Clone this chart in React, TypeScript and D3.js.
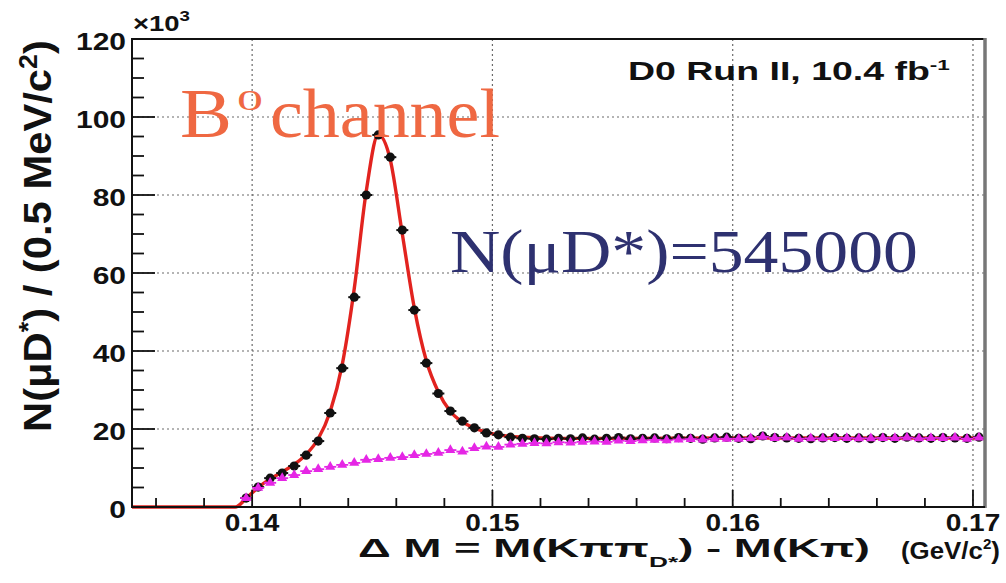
import React, { useEffect, useRef } from "react";
import * as d3 from "d3";

const WIDTH = 1006;
const HEIGHT = 583;

// Histogram binning of ΔM (GeV/c²)
const binLow = 0.1395;
const binWidth = 0.0005;

// Right-sign μD* candidates per 0.5 MeV/c² bin (×10³)
const dataCounts = [
  2.3, 5.1, 7.4, 8.7, 10.5, 13.3, 16.9, 24.1, 35.6, 53.8, 80.0, 95.4, 89.7, 71.0,
  50.5, 36.9, 29.1, 24.6, 22.0, 20.3, 19.0, 18.5, 17.9, 17.6,
  17.5, 17.4, 17.6, 17.5, 17.7, 17.4, 17.6, 17.8, 17.5, 17.6, 17.7, 17.5, 17.8,
  17.6, 17.4, 17.7, 17.9, 17.6, 17.5, 18.2, 17.8, 17.7, 17.6, 17.5, 17.7, 17.8,
  17.6, 17.7, 17.5, 17.8, 17.6, 17.9, 17.7, 17.6, 17.8, 17.7, 17.6, 17.9,
];

// Wrong-sign (background) candidates per bin (×10³)
const bkgCounts = [
  2.3, 4.9, 6.2, 7.4, 8.2, 9.2, 9.7, 10.3, 10.8, 11.3, 12.1, 12.3, 12.6, 12.8,
  13.3, 13.6, 13.9, 14.6, 14.2, 15.1, 15.5, 15.4, 16.0, 16.2, 16.4, 16.3, 16.6, 16.5,
  16.7, 16.8, 16.7, 17.0, 16.9, 17.1, 17.2, 17.1, 17.3, 17.4, 17.3, 17.5, 17.5,
  17.5, 17.6, 18.0, 17.7, 17.8, 17.5, 17.6, 17.6, 17.7, 17.7, 17.6, 17.6, 17.7,
  17.7, 17.8, 17.6, 17.7, 17.7, 17.8, 17.5, 17.8,
];

// Fitted signal + background curve
const fitMass = [
  0.135, 0.1393, 0.13975, 0.14025, 0.14075, 0.14125, 0.14175, 0.14225, 0.14275,
  0.14325, 0.14375, 0.14425, 0.14475, 0.14525, 0.14575, 0.14625, 0.14675, 0.14725,
  0.14775, 0.14825, 0.14875, 0.14925, 0.14975, 0.15025, 0.15125, 0.15275, 0.155,
  0.16, 0.165, 0.1705,
];
const fitCounts = [
  0, 0, 2.2, 5.0, 7.2, 9.0, 10.9, 13.5, 17.5, 24.5, 36.5, 56, 81, 95.5, 89, 70, 51,
  37.5, 29.5, 24.5, 21.8, 20.2, 19.2, 18.5, 17.9, 17.6, 17.6, 17.7, 17.7, 17.7,
];

const xDomain = [0.135, 0.1705];
const yDomain = [0, 120];
const xMajorTicks = [0.14, 0.15, 0.16, 0.17];
const xTickLabels = ["0.14", "0.15", "0.16", "0.17"];
const yMajorTicks = [0, 20, 40, 60, 80, 100, 120];
const yTickLabels = ["0", "20", "40", "60", "80", "100", "120"];

const ROOT_FONT = "'Liberation Sans', Arial, Helvetica, sans-serif";
const HAND_FONT = "'Liberation Serif', 'DejaVu Serif', serif";

const PLOT = { left: 132, right: 985, top: 39, bottom: 507 };

type Sel = d3.Selection<SVGTextElement, unknown, null, undefined>;

// Place a text element so that its advance width equals `width`, anchored at x.
function fitText(
  parent: d3.Selection<SVGGElement, unknown, null, undefined>,
  x: number,
  y: number,
  width: number,
  anchor: "start" | "middle" | "end",
  style: { size: number; weight?: string; family: string; fill: string },
  build: (t: Sel) => void,
  rotate = 0
) {
  const t = parent
    .append("text")
    .attr("font-family", style.family)
    .attr("font-size", style.size)
    .attr("font-weight", style.weight || "normal")
    .attr("fill", style.fill)
    .attr("text-anchor", "start") as unknown as Sel;
  build(t);
  const w = (t.node() as SVGTextElement).getBBox().width || 1;
  const sx = width / w;
  const off = anchor === "start" ? 0 : anchor === "middle" ? -width / 2 : -width;
  if (rotate) {
    t.attr("transform", `translate(${x},${y}) rotate(${rotate}) translate(${off},0) scale(${sx},1)`);
  } else {
    t.attr("transform", `translate(${x + off},${y}) scale(${sx},1)`);
  }
  return t;
}

export default function App() {
  const ref = useRef<SVGSVGElement>(null);

  useEffect(() => {
    const svg = d3.select(ref.current as SVGSVGElement);
    svg.selectAll("*").remove();
    const g = svg.append("g") as unknown as d3.Selection<SVGGElement, unknown, null, undefined>;

    const x = d3.scaleLinear().domain(xDomain).range([PLOT.left, PLOT.right]);
    const y = d3.scaleLinear().domain(yDomain).range([PLOT.bottom, PLOT.top]);

    const centers = dataCounts.map((_, i) => binLow + (i + 0.5) * binWidth);

    // dotted grid at the major ticks
    const grid = g.append("g").attr("stroke", "#6a6a6a").attr("stroke-width", 1.2).attr("stroke-dasharray", "2,3");
    xMajorTicks.forEach((v) => {
      grid.append("line").attr("x1", x(v)).attr("x2", x(v)).attr("y1", PLOT.top).attr("y2", PLOT.bottom);
    });
    yMajorTicks.filter((v) => v > 0 && v < 120).forEach((v) => {
      grid.append("line").attr("x1", PLOT.left).attr("x2", PLOT.right).attr("y1", y(v)).attr("y2", y(v));
    });

    // fit curve
    const line = d3
      .line<number>()
      .x((_, i) => x(fitMass[i]))
      .y((d) => y(d))
      .curve(d3.curveMonotoneX);
    g.append("path")
      .attr("d", line(fitCounts) as string)
      .attr("fill", "none")
      .attr("stroke", "#e2231f")
      .attr("stroke-width", 3.4);

    // data points with bin-width bars
    const dataG = g.append("g");
    dataCounts.forEach((v, i) => {
      const cx = x(centers[i]);
      dataG
        .append("line")
        .attr("x1", x(centers[i] - binWidth / 2))
        .attr("x2", x(centers[i] + binWidth / 2))
        .attr("y1", y(v))
        .attr("y2", y(v))
        .attr("stroke", "#111")
        .attr("stroke-width", 2);
      dataG.append("circle").attr("cx", cx).attr("cy", y(v)).attr("r", 4.6).attr("fill", "#111");
    });

    // wrong-sign background (triangles)
    const tri = d3.symbol().type(d3.symbolTriangle).size(44);
    const bkgG = g.append("g");
    bkgCounts.forEach((v, i) => {
      bkgG
        .append("line")
        .attr("x1", x(centers[i] - binWidth / 2))
        .attr("x2", x(centers[i] + binWidth / 2))
        .attr("y1", y(v))
        .attr("y2", y(v))
        .attr("stroke", "#e526e5")
        .attr("stroke-width", 1.8);
      bkgG
        .append("path")
        .attr("d", tri() as string)
        .attr("transform", `translate(${x(centers[i])},${y(v)})`)
        .attr("fill", "#e526e5");
    });

    // frame
    g.append("line").attr("x1", PLOT.left).attr("x2", PLOT.right).attr("y1", PLOT.top).attr("y2", PLOT.top).attr("stroke", "#111").attr("stroke-width", 2);
    g.append("line").attr("x1", PLOT.right).attr("x2", PLOT.right).attr("y1", PLOT.top - 1).attr("y2", PLOT.bottom + 1).attr("stroke", "#777").attr("stroke-width", 3.5);
    g.append("line").attr("x1", PLOT.left).attr("x2", PLOT.left).attr("y1", PLOT.top - 1).attr("y2", PLOT.bottom + 1).attr("stroke", "#111").attr("stroke-width", 2);
    g.append("line").attr("x1", PLOT.left).attr("x2", PLOT.right).attr("y1", PLOT.bottom).attr("y2", PLOT.bottom).attr("stroke", "#111").attr("stroke-width", 2.2);

    // ticks
    const ticks = g.append("g").attr("stroke", "#111").attr("stroke-width", 1.8);
    d3.range(0, 121, 5).forEach((v) => {
      const len = v % 20 === 0 ? 23 : 12;
      ticks.append("line").attr("x1", PLOT.left).attr("x2", PLOT.left + len).attr("y1", y(v)).attr("y2", y(v));
    });
    d3.range(0, 18).forEach((k) => {
      const v = 0.136 + k * 0.002;
      const major = xMajorTicks.some((m) => Math.abs(m - v) < 1e-6);
      const len = major ? 17 : 9;
      ticks.append("line").attr("x1", x(v)).attr("x2", x(v)).attr("y1", PLOT.bottom).attr("y2", PLOT.bottom - len);
    });

    // tick labels
    yMajorTicks.forEach((v, i) => {
      g.append("text")
        .attr("font-family", ROOT_FONT)
        .attr("font-size", 24)
        .attr("font-weight", "bold")
        .attr("fill", "#111")
        .attr("text-anchor", "end")
        .attr("transform", `translate(126,${y(v) + 11}) scale(1.25,1)`)
        .text(yTickLabels[i]);
    });
    xMajorTicks.forEach((v, i) => {
      g.append("text")
        .attr("font-family", ROOT_FONT)
        .attr("font-size", 23)
        .attr("font-weight", "bold")
        .attr("fill", "#111")
        .attr("text-anchor", "middle")
        .attr("transform", `translate(${x(v)},531) scale(1.22,1)`)
        .text(xTickLabels[i]);
    });

    // ×10³ exponent
    fitText(g, 133, 31, 57, "start", { size: 22, weight: "bold", family: ROOT_FONT, fill: "#111" }, (t) => {
      t.append("tspan").text("×10");
      t.append("tspan").attr("dy", -10).attr("font-size", 15).text("3");
    });

    // x-axis title
    fitText(g, 358, 557, 512, "start", { size: 26, weight: "bold", family: ROOT_FONT, fill: "#111" }, (t) => {
      t.append("tspan").text("Δ M = M(Kππ");
      t.append("tspan").attr("dy", 10).attr("font-size", 15).text("D*");
      t.append("tspan").attr("dy", -10).text(") - M(Kπ)");
    });
    fitText(g, 901, 559, 99, "start", { size: 24, weight: "bold", family: ROOT_FONT, fill: "#111" }, (t) => {
      t.append("tspan").text("(GeV/c");
      t.append("tspan").attr("dy", -10).attr("font-size", 14).text("2");
      t.append("tspan").attr("dy", 10).text(")");
    });

    // y-axis title (rotated)
    fitText(
      g,
      51,
      432,
      392,
      "start",
      { size: 39, weight: "bold", family: ROOT_FONT, fill: "#111" },
      (t) => {
        t.append("tspan").text("N(μD");
        t.append("tspan").attr("dy", -14).attr("font-size", 25).text("*");
        t.append("tspan").attr("dy", 14).text(") / (0.5 MeV/c");
        t.append("tspan").attr("dy", -14).attr("font-size", 25).text("2");
        t.append("tspan").attr("dy", 14).text(")");
      },
      -90
    );

    // experiment label
    fitText(g, 628, 80, 322, "start", { size: 25, weight: "bold", family: ROOT_FONT, fill: "#111" }, (t) => {
      t.append("tspan").text("D0 Run II, 10.4 fb");
      t.append("tspan").attr("dy", -10).attr("font-size", 15).text("-1");
    });

    // annotations
    const orange = "#ef6842";
    const navy = "#2e3170";
    fitText(g, 180, 137, 52, "start", { size: 70, family: HAND_FONT, fill: orange }, (t) => {
      t.text("B");
    });
    fitText(g, 237, 110, 26, "start", { size: 30, family: HAND_FONT, fill: orange }, (t) => {
      t.text("0");
    });
    fitText(g, 270, 137, 230, "start", { size: 70, family: HAND_FONT, fill: orange }, (t) => {
      t.text("channel");
    });
    fitText(g, 450, 272, 468, "start", { size: 62, family: HAND_FONT, fill: navy }, (t) => {
      t.text("N(μD*)=545000");
    });
  }, []);

  return (
    <svg
      ref={ref}
      width={WIDTH}
      height={HEIGHT}
      style={{ position: "absolute", left: 0, top: 0, background: "#fff" }}
    />
  );
}
